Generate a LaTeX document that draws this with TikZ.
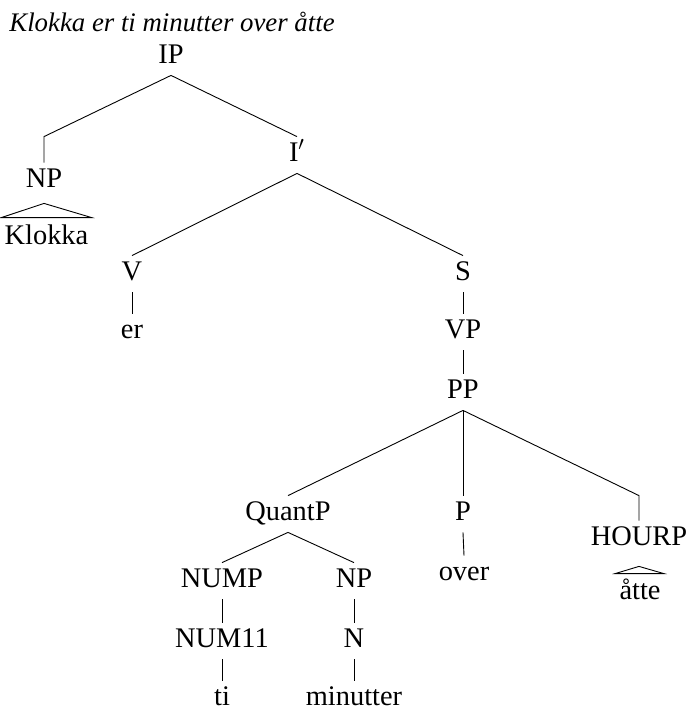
\documentclass[tikz,border=0pt]{standalone}
\usepackage{fontspec}
\setmainfont{Liberation Serif}
\usetikzlibrary{calc}
\begin{document}
\begin{tikzpicture}[x=0.5pt,y=-0.5pt,
  lbl/.style={anchor=base,inner xsep=1.5pt,inner ysep=3pt,
    text height=9pt,text depth=3pt,font=\fontsize{14.2}{16}\selectfont},
  edge/.style={line width=0.45pt},
  roof/.style={line width=0.45pt}]
\useasboundingbox (0,0) rectangle (690,709);

% sentence heading
\node[anchor=base west,inner sep=0,font=\fontsize{13.4}{16}\selectfont\itshape]
  (title) at (9,31) {Klokka er ti minutter over åtte};

% tree nodes (placed by baseline)
\node[lbl] (IP)   at (171,63)  {IP};
\node[lbl] (NP)   at (44,187)  {NP};
\node[lbl] (Klokka) at (46.5,244) {Klokka};
\node[lbl] (Ib)   at (297,161) {I$'$};
\node[lbl] (V)    at (132,280) {V};
\node[lbl] (er)   at (132,338) {er};
\node[lbl] (S)    at (463,280) {S};
\node[lbl] (VP)   at (463,338) {VP};
\node[lbl] (PP)   at (463,398) {PP};
\node[lbl] (QP)   at (288,520) {QuantP};
\node[lbl] (P)    at (463,520) {P};
\node[lbl] (over) at (464,580) {over};
\node[lbl] (HP)   at (639,545) {HOURP};
\node[lbl,inner xsep=3pt] (atte) at (640,599) {åtte};
\node[lbl] (NUMP) at (222,587) {NUMP};
\node[lbl] (NPb)  at (354,587) {NP};
\node[lbl] (NUM)  at (222,647) {NUM11};
\node[lbl] (N)    at (354,647) {N};
\node[lbl] (ti)   at (222,705) {ti};
\node[lbl] (min)  at (354,705) {minutter};

% branches
\draw[edge] (IP.south) -- (NP.north |- Ib.north) -- (NP.north);
\draw[edge] (IP.south) -- (Ib.north);
\draw[edge] (Ib.south) -- (V.north);
\draw[edge] (Ib.south) -- (S.north);
\draw[edge] (V.south) -- (er.north);
\draw[edge] (S.south) -- (VP.north);
\draw[edge] (VP.south) -- (PP.north);
\draw[edge] (PP.south) -- (QP.north);
\draw[edge] (PP.south) -- (P.north);
\draw[edge] (PP.south) -- (HP.north |- P.north) -- (HP.north);
\draw[edge] (P.south) -- (over.north);
\draw[edge] (QP.south) -- (NUMP.north);
\draw[edge] (QP.south) -- (NPb.north);
\draw[edge] (NUMP.south) -- (NUM.north);
\draw[edge] (NUM.south) -- (ti.north);
\draw[edge] (NPb.south) -- (N.north);
\draw[edge] (N.south) -- (min.north);

% triangles over unanalysed material
\draw[roof] ($(NP.south)+(0,4)$) -- ($(Klokka.north east)+(0,-2)$)
  -- ($(Klokka.north west)+(0,-2)$) -- cycle;
\draw[roof] ($(HP.south)+(0,9)$) -- ($(atte.north east)+(-3,-1)$)
  -- ($(atte.north west)+(2,-1)$) -- cycle;
\end{tikzpicture}
\end{document}
